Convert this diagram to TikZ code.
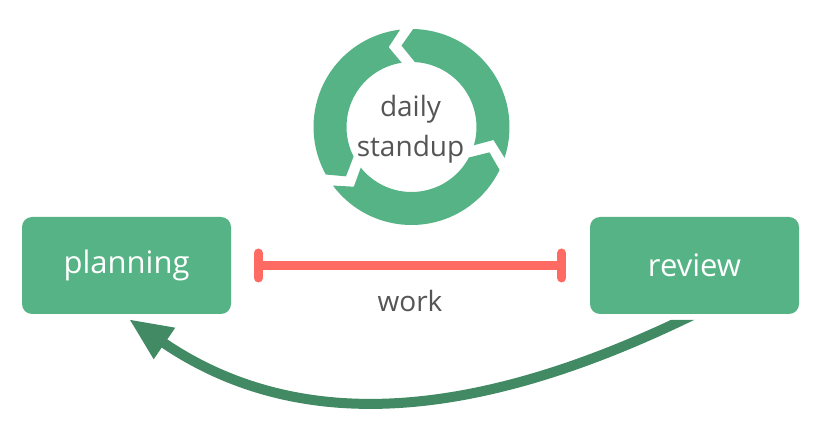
\documentclass[tikz,border=0pt]{standalone}
\usepackage{fontspec}
\setmainfont{Open Sans}
\usetikzlibrary{arrows.meta}
\definecolor{boxgreen}{HTML}{55B385}
\definecolor{arrowgreen}{HTML}{418A64}
\definecolor{workred}{HTML}{FF6B62}
\definecolor{textgray}{HTML}{555555}
\begin{document}
\begin{tikzpicture}[line join=round,x=1pt,y=1pt,
    phase/.style={fill=boxgreen,rounded corners=10pt,minimum width=209pt,minimum height=97pt,inner sep=0pt,text=white,font=\fontsize{31}{36}\selectfont},
    label/.style={text=textgray,font=\fontsize{28}{40}\selectfont,align=center,inner sep=0pt},
    workbar/.style={draw=workred,line width=9pt,{Bar[width=25pt,round]}-{Bar[width=25pt,round]}},
    loop/.style={draw=arrowgreen,line width=10pt,-{Triangle[length=43pt,width=35pt]}}]
     \useasboundingbox (0,0) rectangle (816,447);
     \node[phase] (planning) at (126.5,181.5) {planning}; % Kasten links
     \node[phase] (review)   at (694.5,181.5) {review};   % Kasten rechts

     \foreach \a/\b in {93/213,213/338,338/453}
     \fill[boxgreen,shift={(411.5,320)}] (\a+3.7:98pt) arc[start angle=\a+3.7,end angle=\b-4,radius=98pt]
          -- (\b+4:82pt) -- (\b-6:65pt) arc[start angle=\b-6,end angle=\a+5.7,radius=65pt]
          -- (\a+13:83pt) -- cycle; % Kreissegmente
     \node[label] (standup) at (410.5,318) {daily\\standup};

     \draw[workbar] ([xshift=22.5pt]planning.east) -- ([xshift=-23.5pt]review.west) % roter Balken
          node[label,midway,anchor=base,yshift=-46.5pt] (work) {work};

     \begin{scope}
     \clip (0,0) -- (816,0) -- (816,127) -- (450,127) -- (450,447) -- (0,447) -- cycle;
     \draw[loop] (review.south) .. controls +(-180,-88) and +(190,-130) .. ([xshift=2.5pt,yshift=-5pt]planning.south); % Pfeil zurueck
     \end{scope}
\end{tikzpicture}
\end{document}
